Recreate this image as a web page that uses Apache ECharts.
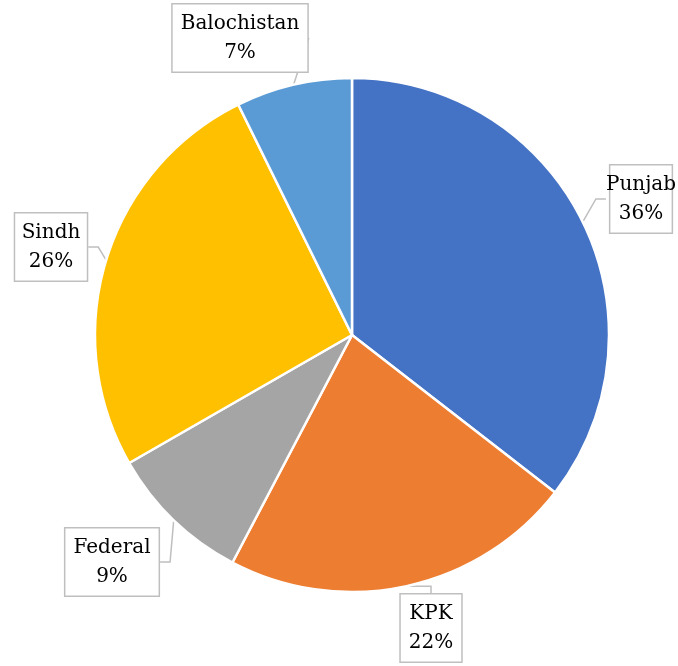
<!DOCTYPE html>
<html><head><meta charset="utf-8">
<script src="https://cdn.jsdelivr.net/npm/echarts@6/dist/echarts.min.js"></script>
<style>html,body{margin:0;padding:0;background:#fff}#c{width:678px;height:666px}</style>
</head><body><div id="c"></div>
<script>
const categories = ['Punjab', 'KPK', 'Federal', 'Sindh', 'Balochistan'];
const values = [35.5, 22.2, 9.0, 26.0, 7.3];
const colors = ['#4472C4', '#ED7D31', '#A5A5A5', '#FFC000', '#5B9BD5'];
const labelCenters = [[641, 199], [431, 628], [112, 562], [51, 247], [240, 38]];
const labelPadX = [11, 8, 8, 8, 8];

const chart = echarts.init(document.getElementById('c'));
chart.setOption({
  animation: false,
  series: [{
    type: 'pie',
    center: [352, 335],
    radius: [0, 257],
    startAngle: 90,
    clockwise: true,
    itemStyle: { borderColor: '#fff', borderWidth: 2.5 },
    label: {
      show: true,
      position: 'outside',
      overflow: 'none',
      formatter: p => p.name + '\n' + Math.round(p.value) + '%',
      fontFamily: 'DejaVu Serif',
      fontSize: 20,
      lineHeight: 29,
      color: '#000',
      align: 'center',
      backgroundColor: '#fff',
      borderColor: '#bfbfbf',
      borderWidth: 1.5,
      padding: [5, 8, 4, 8]
    },
    labelLine: { show: true, length: 10, length2: 10, lineStyle: { color: '#bfbfbf', width: 1.5 } },
    labelLayout: p => ({ x: labelCenters[p.dataIndex][0], y: labelCenters[p.dataIndex][1], align: 'center', verticalAlign: 'middle' }),
    data: categories.map((c, i) => ({
      name: c, value: values[i],
      itemStyle: { color: colors[i] },
      label: { padding: [5, labelPadX[i], 4, labelPadX[i]] }
    }))
  }]
});
</script></body></html>
